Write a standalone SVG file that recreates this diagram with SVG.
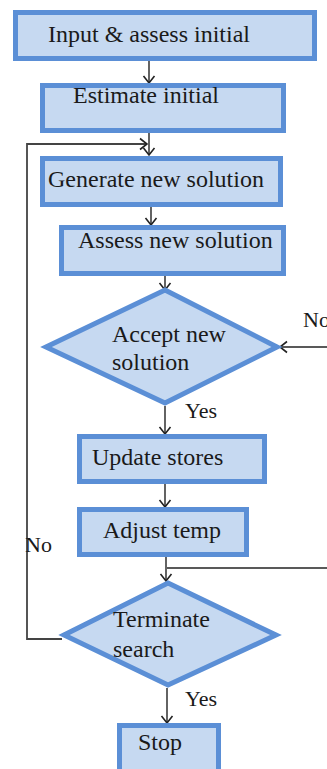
<svg xmlns="http://www.w3.org/2000/svg" width="327" height="769" viewBox="0 0 327 769">
  <style>
    .box { fill: #c6d9f1; stroke: #5b8fd6; stroke-width: 5; stroke-linejoin: miter; }
    .t { font-family: "Liberation Serif", "DejaVu Serif", serif; font-size: 24px; fill: #1a1a1a; }
    .lbl { font-family: "Liberation Serif", "DejaVu Serif", serif; font-size: 22px; fill: #1a1a1a; }
    .wire { fill: none; stroke: #222; stroke-width: 1.4; }
    .loop { fill: none; stroke: #444; stroke-width: 1.8; }
  </style>
  <defs>
    <marker id="arrow" markerUnits="userSpaceOnUse" markerWidth="16" markerHeight="16" viewBox="-8 -8 16 16" refX="0" refY="0" orient="auto">
      <path d="M-7,-5.5 L0,0 L-7,5.5" fill="none" stroke="#222" stroke-width="1.6"/>
    </marker>
  </defs>

  <g id="connectors">
    <line class="wire" x1="149" y1="61" x2="149" y2="83" marker-end="url(#arrow)"/>
    <line class="wire" x1="149" y1="133" x2="149" y2="155" marker-end="url(#arrow)"/>
    <polyline class="loop" points="62,639 27,639 27,144 147,144" marker-end="url(#arrow)"/>
    <line class="wire" x1="151" y1="207" x2="151" y2="225" marker-end="url(#arrow)"/>
    <line class="wire" x1="165" y1="276" x2="165" y2="290" marker-end="url(#arrow)"/>
    <line class="wire" x1="327" y1="347" x2="280" y2="347" marker-end="url(#arrow)"/>
    <line class="wire" x1="165" y1="406" x2="165" y2="434" marker-end="url(#arrow)"/>
    <line class="wire" x1="165" y1="484" x2="165" y2="507" marker-end="url(#arrow)"/>
    <line class="wire" x1="166" y1="557" x2="166" y2="581" marker-end="url(#arrow)"/>
    <line class="wire" x1="327" y1="568" x2="167" y2="568"/>
    <line class="wire" x1="167" y1="688" x2="167" y2="723" marker-end="url(#arrow)"/>
  </g>

  <g id="input">
    <rect class="box" x="15.5" y="12.5" width="299" height="46"/>
    <text class="t" x="48" y="42">Input &amp; assess initial</text>
  </g>
  <g id="estimate">
    <rect class="box" x="42.5" y="85.5" width="241" height="45"/>
    <text class="t" x="73" y="103">Estimate initial</text>
  </g>
  <g id="generate">
    <rect class="box" x="42.5" y="158.5" width="238" height="46"/>
    <text class="t" x="48" y="187">Generate new solution</text>
  </g>
  <g id="assess">
    <rect class="box" x="61.5" y="227.5" width="222" height="46"/>
    <text class="t" x="78" y="248">Assess new solution</text>
  </g>
  <g id="accept">
    <polygon class="box" points="165,290 277,347 165,403 46,347"/>
    <text class="t" x="112" y="342">Accept new</text>
    <text class="t" x="112" y="370">solution</text>
  </g>
  <g id="update">
    <rect class="box" x="79.5" y="436.5" width="185" height="45"/>
    <text class="t" x="92" y="465">Update stores</text>
  </g>
  <g id="adjust">
    <rect class="box" x="79.5" y="509.5" width="167" height="45"/>
    <text class="t" x="103" y="538">Adjust temp</text>
  </g>
  <g id="terminate">
    <polygon class="box" points="168,583 276,635 168,685 64,635"/>
    <text class="t" x="113" y="627">Terminate</text>
    <text class="t" x="113" y="657">search</text>
  </g>
  <g id="stop">
    <rect class="box" x="119.5" y="725.5" width="99" height="50"/>
    <text class="t" x="138" y="750">Stop</text>
  </g>

  <g id="labels">
    <text class="lbl" x="303" y="327">No</text>
    <text class="lbl" x="185" y="418">Yes</text>
    <text class="lbl" x="25" y="552">No</text>
    <text class="lbl" x="185" y="706">Yes</text>
  </g>
</svg>
